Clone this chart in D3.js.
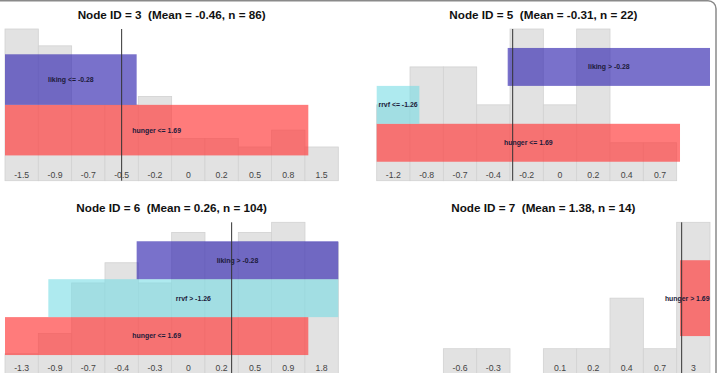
<!DOCTYPE html>
<html lang="en">

<head>
    <meta charset="UTF-8">
    <title>Node histograms</title>
    <script src="https://d3js.org/d3.v7.min.js"></script>
    <style>
        body { margin: 0; background: #fff; }
    </style>
</head>

<body>
    <script>
        var width = 719, height = 373;

        // data
        var nodeIds = [3, 5, 6, 7];
        var nodeMeans = ['-0.46', '-0.31', '0.26', '1.38'];
        var nodeSizes = [86, 22, 104, 14];
        var binLabels = [
            ['-1.5', '-0.9', '-0.7', '-0.5', '-0.2', '0', '0.2', '0.5', '0.8', '1.5'],
            ['-1.2', '-0.8', '-0.7', '-0.4', '-0.2', '0', '0.2', '0.4', '0.7', ''],
            ['-1.3', '-0.9', '-0.7', '-0.4', '-0.3', '0', '0.2', '0.5', '0.9', '1.8'],
            ['', '', '-0.6', '-0.3', '', '0.1', '0.2', '0.4', '0.7', '3']
        ];
        var binCounts = [
            [18, 16, 9, 9, 10, 5, 5, 4, 6, 4],
            [2, 3, 3, 2, 4, 2, 4, 1, 1, 0],
            [2, 4, 9, 11, 9, 14, 13, 14, 15, 13],
            [0, 0, 1, 1, 0, 1, 1, 3, 1, 6]
        ];
        // where the mean line sits, in bin units
        var meanBinPos = [3.5, 4.08, 6.8, 9.15];
        // split conditions on the path to each node, root first (bottom row first)
        var pathSplits = [
            [{ text: 'hunger <= 1.69', from: 0, to: 9.1 }, { text: 'liking <= -0.28', from: 0, to: 3.95 }],
            [{ text: 'hunger <= 1.69', from: 0, to: 9.1 }, { text: 'rrvf <= -1.26', from: 0, to: 1.28 }, { text: 'liking > -0.28', from: 3.93, to: 10 }],
            [{ text: 'hunger <= 1.69', from: 0, to: 9.1 }, { text: 'rrvf > -1.26', from: 1.3, to: 10 }, { text: 'liking > -0.28', from: 3.95, to: 10 }],
            [{ text: 'hunger > 1.69', from: 9.1, to: 10 }]
        ];

        var splitColor = { hunger: '#ff3c3c', rrvf: '#78dce4', liking: '#3a2eb2' };
        var splitOpacity = { hunger: 0.68, rrvf: 0.6, liking: 0.68 };

        // panel geometry
        var panelX = [5, 376.7, 5, 376.7];
        var panelTop = [29, 29, 222.3, 222.3];
        var panelW = 333.3, panelH = 151.7, nBins = 10;

        var svg = d3.select('body').append('svg').attr('width', width).attr('height', height);

        nodeIds.forEach(function (id, p) {
            var g = svg.append('g');
            var x = d3.scaleLinear().domain([0, nBins]).range([panelX[p], panelX[p] + panelW]);
            var bottom = panelTop[p] + panelH;
            var y = d3.scaleLinear().domain([0, d3.max(binCounts[p])]).range([bottom, panelTop[p]]);

            // title
            g.append('text')
                .attr('x', x(nBins / 2))
                .attr('y', panelTop[p] - 10.5)
                .attr('text-anchor', 'middle')
                .style('font-family', 'Liberation Sans, Arial, sans-serif')
                .style('font-weight', 'bold')
                .style('font-size', '11.7px')
                .attr('fill', '#111')
                .text('Node ID = ' + id + '\u00a0\u00a0(Mean = ' + nodeMeans[p] + ', n = ' + nodeSizes[p] + ')');

            // histogram bars
            g.selectAll('rect.bar').data(binCounts[p])
                .join('rect')
                .attr('class', 'bar')
                .attr('x', function (d, i) { return x(i); })
                .attr('width', x(1) - x(0))
                .attr('y', function (d) { return y(d); })
                .attr('height', function (d) { return bottom - y(d); })
                .attr('fill', '#e2e2e2')
                .attr('stroke', '#d2d2d2')
                .attr('stroke-width', function (d) { return d > 0 ? 0.8 : 0; });

            // bin labels
            g.selectAll('text.bin').data(binLabels[p])
                .join('text')
                .attr('class', 'bin')
                .attr('x', function (d, i) { return x(i + 0.5); })
                .attr('y', bottom - 2.6)
                .attr('text-anchor', 'middle')
                .style('font-family', 'Liberation Sans, Arial, sans-serif')
                .style('font-size', '8.7px')
                .attr('fill', '#444')
                .text(function (d) { return d; });

            // split rows
            var rows = pathSplits[p];
            var unit = panelH / (2 * rows.length + 2);
            rows.forEach(function (s, r) {
                var v = s.text.split(' ')[0];
                var y1 = bottom - unit * (3 + 2 * r), y0 = bottom - unit * (1 + 2 * r);
                g.append('rect')
                    .attr('x', x(s.from))
                    .attr('width', x(s.to) - x(s.from))
                    .attr('y', y1)
                    .attr('height', y0 - y1)
                    .attr('fill', splitColor[v])
                    .attr('fill-opacity', splitOpacity[v]);
                var t = g.append('text')
                    .attr('y', (y0 + y1) / 2 + 2.4)
                    .attr('text-anchor', 'middle')
                    .style('font-family', 'Liberation Sans, Arial, sans-serif')
                    .style('font-weight', 'bold')
                    .style('font-size', '6.9px')
                    .attr('fill', '#1c1a3a')
                    .text(s.text);
                var tw = t.node().getComputedTextLength();
                var cx = Math.min((x(s.from) + x(s.to)) / 2, x(nBins) - tw / 2 - 0.5);
                t.attr('x', cx);
            });

            // mean line
            g.append('line')
                .attr('x1', x(meanBinPos[p])).attr('x2', x(meanBinPos[p]))
                .attr('y1', panelTop[p]).attr('y2', bottom)
                .attr('stroke', '#333')
                .attr('stroke-width', 1);
        });

        // window frame: top edge and rounded right edge
        svg.append('path')
            .attr('d', 'M0,0.75 H708 A8,8 0 0 1 716,8.75 V373')
            .attr('fill', 'none')
            .attr('stroke', '#8a8a8a')
            .attr('stroke-width', 1.5);
    </script>
</body>

</html>
